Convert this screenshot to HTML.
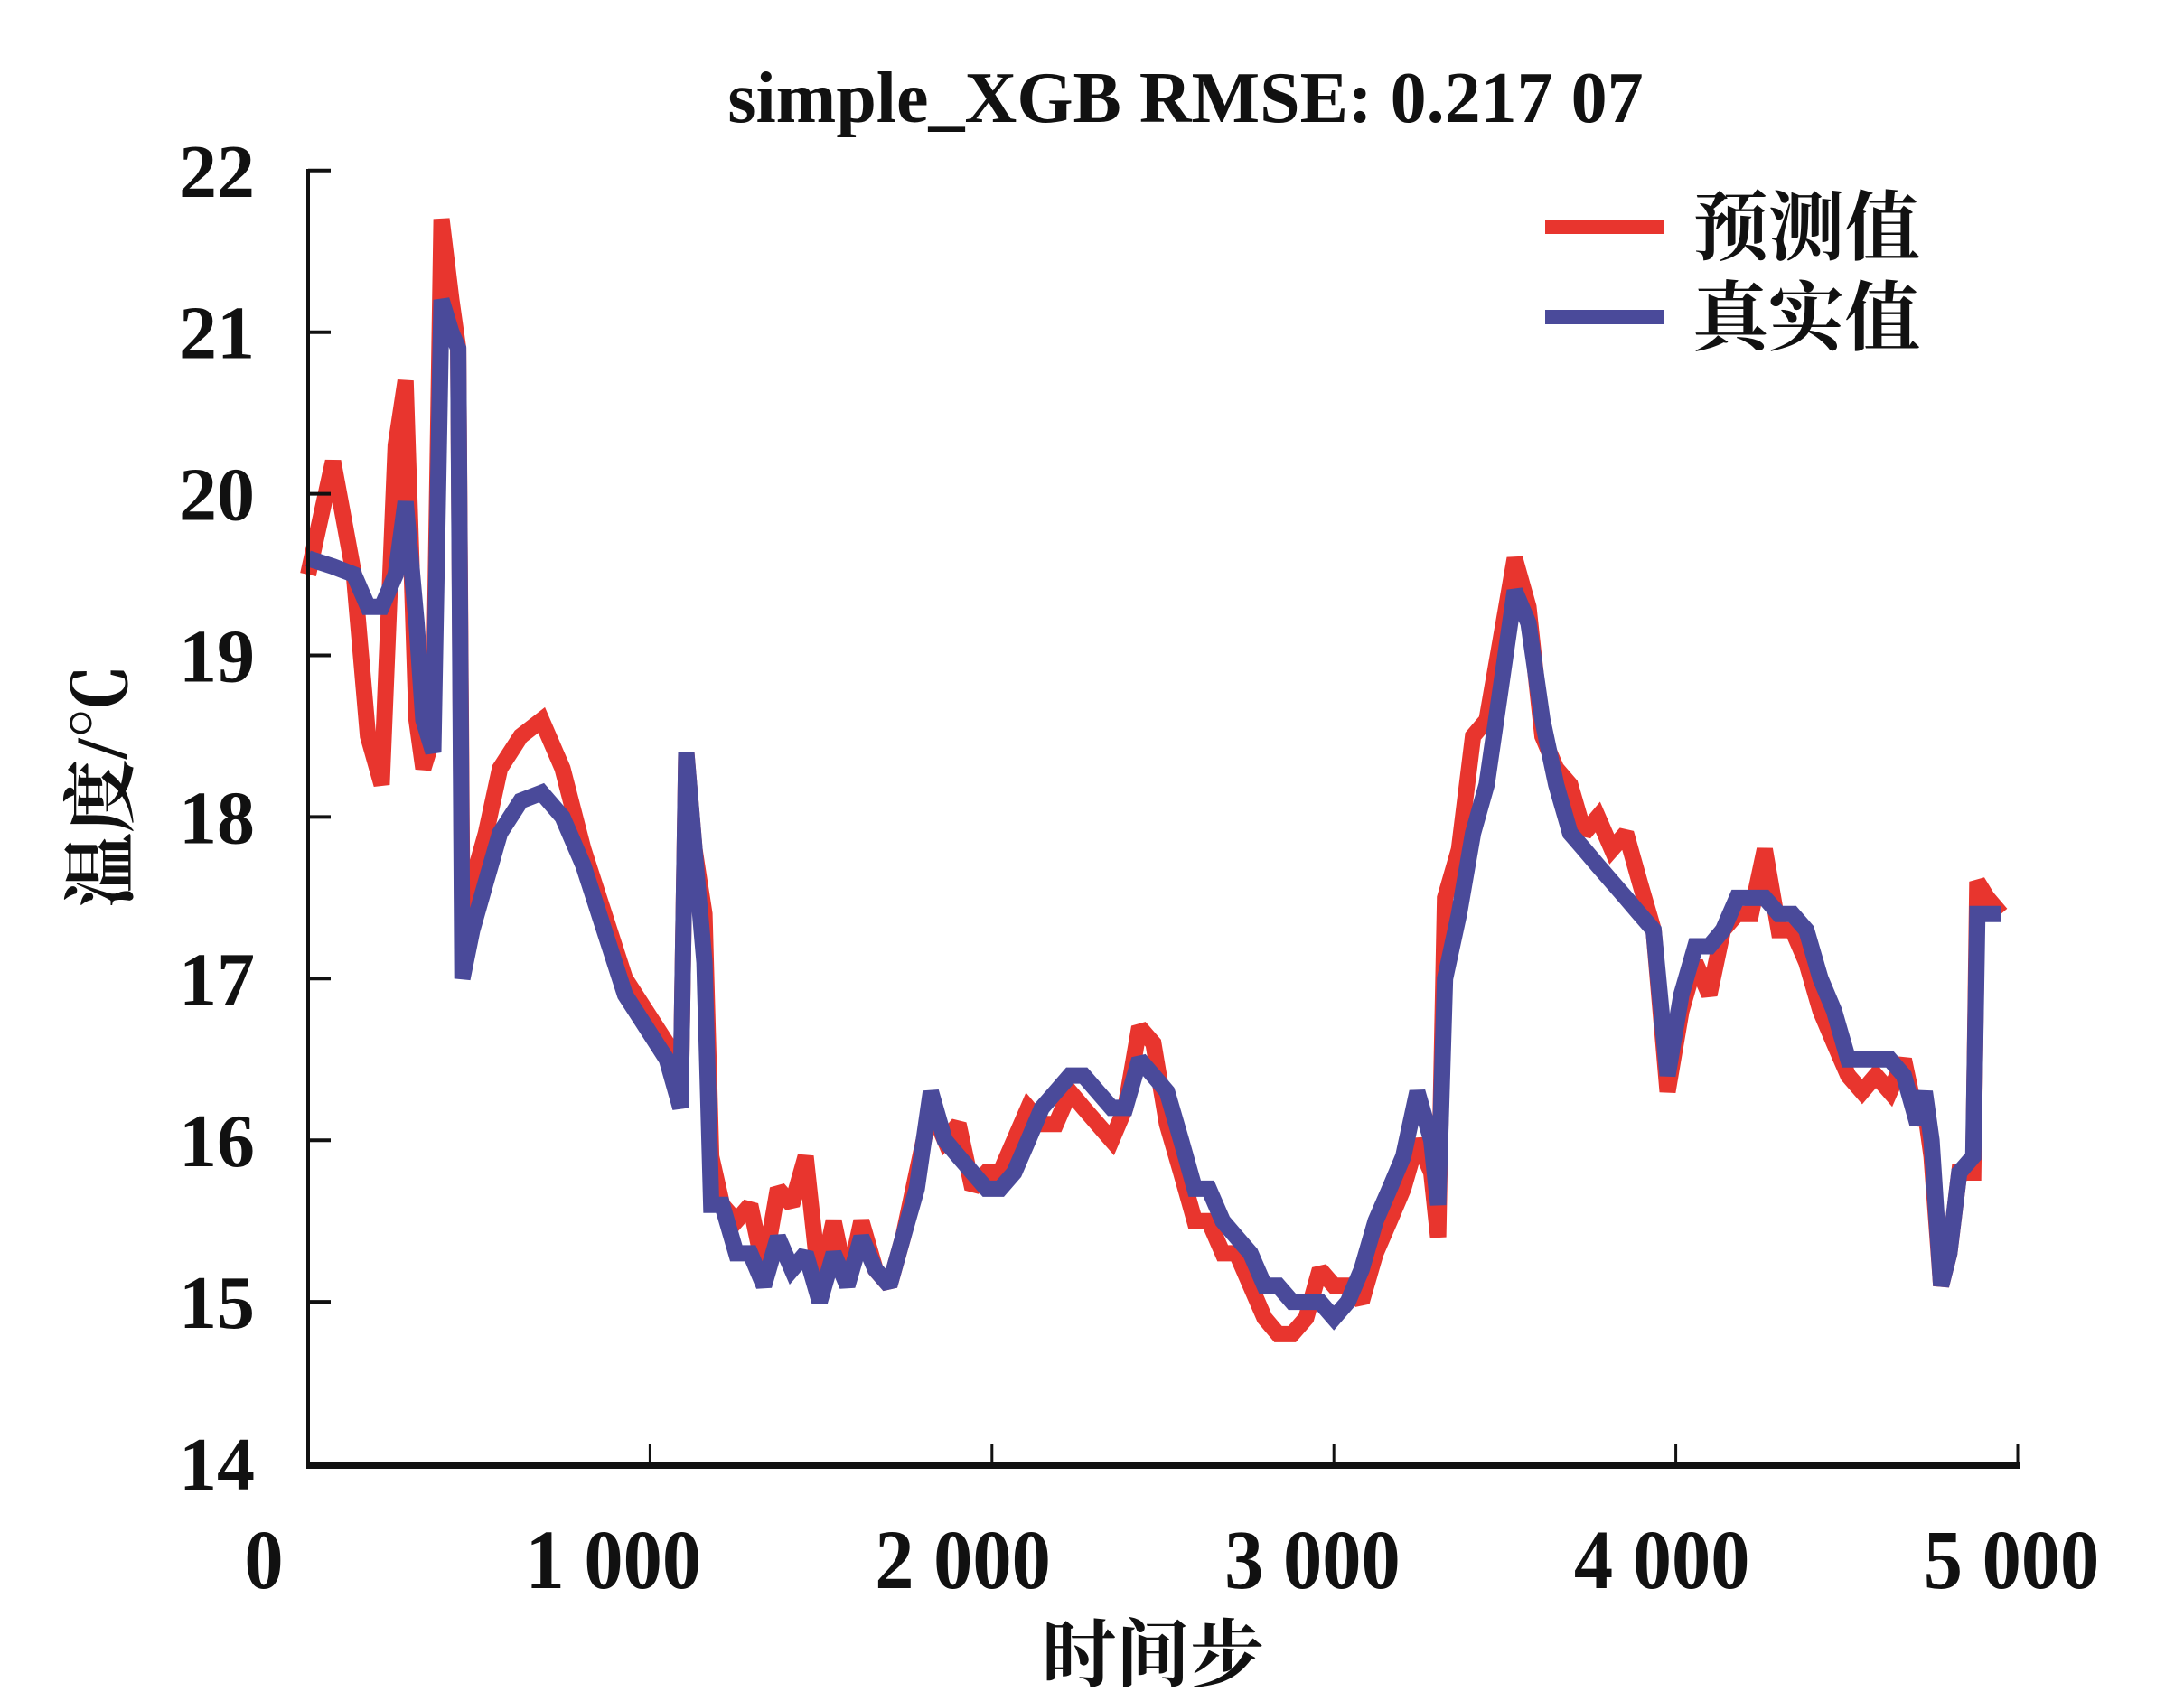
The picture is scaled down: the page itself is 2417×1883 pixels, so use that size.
<!DOCTYPE html>
<html><head><meta charset="utf-8"><style>
html,body{margin:0;padding:0;background:#fff;}
svg{display:block;}
text{font-family:"Liberation Serif","Noto Serif CJK SC",serif;fill:#111;}
</style></head><body>
<svg id="chart" width="2417" height="1883" viewBox="0 0 2417 1883" xmlns="http://www.w3.org/2000/svg">
<text x="1312" y="135" text-anchor="middle" font-size="80" font-weight="bold">simple_XGB RMSE: 0.217 07</text>
<g id="plot"></g>
<g id="axes"></g>
<text transform="translate(140,870) rotate(-90)" text-anchor="middle" font-size="82" font-weight="bold" style="font-family:'Liberation Serif','Noto Serif CJK SC',serif">温度/℃</text>
<text x="1276" y="1860" text-anchor="middle" font-size="82" font-weight="bold" style="font-family:'Liberation Serif','Noto Serif CJK SC',serif">时间步</text>
<g>
<line x1="1710" y1="251" x2="1841" y2="251" stroke="#e8352e" stroke-width="16"/>
<text x="1873" y="281" font-size="84" font-weight="bold">预测值</text>
<line x1="1710" y1="351" x2="1841" y2="351" stroke="#4a4a9a" stroke-width="16"/>
<text x="1873" y="381" font-size="84" font-weight="bold">真实值</text>
</g>
</svg>
<script>
const steps=[0,73,134,175,215,256,285,317,337,366,390,419,439,451,480,520,561,622,683,744,805,866,927,988,1049,1089,1106,1130,1159,1179,1211,1252,1293,1333,1374,1415,1455,1496,1537,1577,1618,1659,1700,1740,1780,1821,1862,1902,1943,1984,2024,2065,2106,2146,2187,2228,2268,2309,2350,2390,2431,2472,2512,2553,2593,2634,2675,2715,2756,2797,2837,2878,2919,2959,3000,3041,3081,3122,3163,3203,3244,3285,3305,3325,3366,3407,3447,3488,3529,3569,3610,3650,3691,3732,3772,3813,3854,3894,3935,3976,4016,4057,4098,4138,4179,4220,4260,4301,4341,4382,4423,4463,4504,4545,4585,4626,4667,4707,4728,4748,4776,4800,4829,4870,4882,4911,4951];
const trueVals=[19.6,19.55,19.5,19.3,19.3,19.5,19.95,19.2,18.6,18.4,21.2,21.0,20.9,17.0,17.3,17.6,17.9,18.1,18.15,18.0,17.7,17.3,16.9,16.7,16.5,16.2,18.4,17.8,17.1,15.6,15.6,15.3,15.3,15.1,15.4,15.2,15.3,15.0,15.3,15.1,15.4,15.2,15.1,15.4,15.7,16.3,16.0,15.9,15.8,15.7,15.7,15.8,16.0,16.2,16.3,16.4,16.4,16.3,16.2,16.2,16.5,16.4,16.3,16.0,15.7,15.7,15.5,15.4,15.3,15.1,15.1,15.0,15.0,15.0,14.9,15.0,15.2,15.5,15.7,15.9,16.3,16.0,15.6,17.0,17.4,17.9,18.2,18.8,19.4,19.2,18.6,18.2,17.9,17.8,17.7,17.6,17.5,17.4,17.3,16.4,16.9,17.2,17.2,17.3,17.5,17.5,17.5,17.4,17.4,17.3,17.0,16.8,16.5,16.5,16.5,16.5,16.4,16.1,16.3,16.0,15.1,15.3,15.8,15.9,17.4,17.4,17.4];
const predVals=[19.5,20.2,19.5,18.5,18.2,20.3,20.7,18.6,18.3,18.5,21.7,21.2,20.9,17.3,17.6,17.9,18.3,18.5,18.6,18.3,17.8,17.4,17.0,16.8,16.6,16.2,18.4,17.8,17.4,15.9,15.6,15.5,15.6,15.2,15.7,15.6,15.9,15.1,15.5,15.1,15.5,15.2,15.1,15.4,15.8,16.2,16.0,16.1,15.7,15.8,15.8,16.0,16.2,16.1,16.1,16.3,16.2,16.1,16.0,16.2,16.7,16.6,16.1,15.8,15.5,15.5,15.3,15.3,15.1,14.9,14.8,14.8,14.9,15.2,15.1,15.1,15.0,15.3,15.5,15.7,16.0,15.8,15.4,17.5,17.8,18.5,18.6,19.1,19.6,19.3,18.5,18.3,18.2,17.9,18.0,17.8,17.9,17.6,17.3,16.3,16.8,17.1,16.9,17.3,17.4,17.4,17.8,17.3,17.3,17.1,16.8,16.6,16.4,16.3,16.4,16.3,16.5,16.1,16.2,15.9,15.1,15.3,15.8,15.8,17.6,17.5,17.4];
const yTicks=[14,15,16,17,18,19,20,21,22];
const xTicks=[0,1000,2000,3000,4000,5000];
const xTickLabels=["0","1 000","2 000","3 000","4 000","5 000"];

const NS="http://www.w3.org/2000/svg";
const X=v=>341+v*0.3784;
const LX=v=>292+v*0.3868;
const Y=v=>1620-(v-14)*178.9;
const plot=document.getElementById('plot');
const axes=document.getElementById('axes');
function mk(tag,attrs,parent){const e=document.createElementNS(NS,tag);for(const k in attrs)e.setAttribute(k,attrs[k]);parent.appendChild(e);return e;}

function series(vals,color,name){
  const pts=steps.map((s,i)=>X(s).toFixed(1)+','+Y(vals[i]).toFixed(1)).join(' ');
  const p=mk('polyline',{points:pts,fill:'none',stroke:color,'stroke-width':18,'stroke-linejoin':'miter','stroke-miterlimit':2},plot);
  
  
}
series(predVals,'#e8352e','predicted-line');
series(trueVals,'#4a4a9a','true-line');

const yl=mk('line',{x1:341,y1:187,x2:341,y2:1624,stroke:'#111','stroke-width':4},axes);


const xl=mk('line',{x1:339,y1:1622,x2:2236,y2:1622,stroke:'#111','stroke-width':8},axes);



yTicks.forEach(v=>{
  const t=mk('line',{x1:341,y1:Y(v),x2:366,y2:Y(v),stroke:'#111','stroke-width':4},axes);
  
  
  const l=mk('text',{x:282,y:Y(v)+29,'text-anchor':'end','font-size':84,'font-weight':'bold'},axes);
  l.textContent=String(v);
  
  
});
xTicks.forEach((v,i)=>{
  if(v>0){
    const t=mk('line',{x1:X(v),y1:1598,x2:X(v),y2:1622,stroke:'#111','stroke-width':3},axes);
    
    
  }
  const cx=LX(v);
  const l=mk('text',{x:0,y:0,'text-anchor':'middle','font-size':93,'font-weight':'bold',transform:'translate('+cx+',1758) scale(0.93,1)'},axes);
  l.textContent=xTickLabels[i];
  
  
});
</script>
</body></html>
